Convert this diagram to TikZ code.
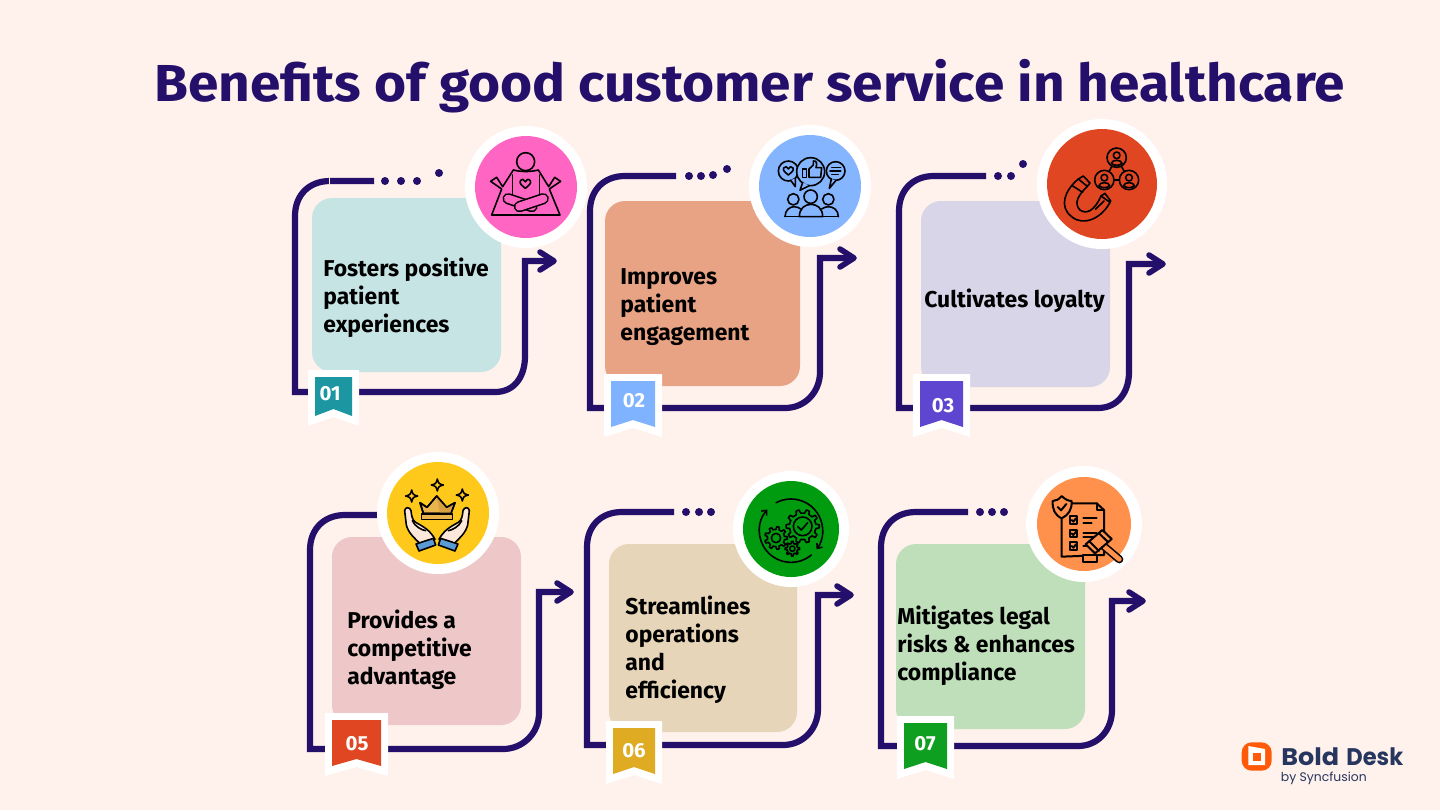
\documentclass[tikz,border=0pt]{standalone}
\usepackage{fontspec}
\usepackage{graphicx}
\usetikzlibrary{arrows.meta,calc}
\newfontfamily\bodyfont{Fira Sans}
\newfontfamily\logofont{Poppins}
\definecolor{bgc}{HTML}{FFF1EB}
\definecolor{navy}{HTML}{24106B}
\definecolor{logoblue}{HTML}{26365F}
\definecolor{logoorange}{HTML}{FF5A0A}
\definecolor{cardA}{HTML}{C7E4E5}
\definecolor{cardB}{HTML}{E8A284}
\definecolor{cardC}{HTML}{D8D5E9}
\definecolor{cardE}{HTML}{EEC8C8}
\definecolor{cardF}{HTML}{E6D5B8}
\definecolor{cardG}{HTML}{BEDFBA}
\definecolor{numA}{HTML}{1C96A0}
\definecolor{numB}{HTML}{7FB2FF}
\definecolor{numC}{HTML}{5E46D0}
\definecolor{numE}{HTML}{E04622}
\definecolor{numF}{HTML}{DFAB22}
\definecolor{numG}{HTML}{0E9E20}
\definecolor{iconA}{HTML}{FF66C4}
\definecolor{iconB}{HTML}{85B5FF}
\definecolor{iconC}{HTML}{E04622}
\definecolor{iconE}{HTML}{FFC91B}
\definecolor{iconF}{HTML}{009B0F}
\definecolor{iconG}{HTML}{FF914D}
\definecolor{gold}{HTML}{E9B44C}
\definecolor{golddark}{HTML}{D9A040}
\definecolor{skin}{HTML}{FCE8DA}
\definecolor{cuff}{HTML}{5B9BD5}
\tikzset{
  x=0.5pt,y=-0.5pt,
  flow/.style={draw=navy,line width=3.1pt,miter limit=10},
  chev/.style={draw=navy,line width=2.8pt,line cap=round,line join=round},
  dotm/.style={fill=navy},
  cardshape/.style={rounded corners=10pt,inner sep=0pt,draw=none},
  cardtext/.style={font=\bodyfont\bfseries\fontsize{11.45}{14}\selectfont,text=black,align=left,anchor=west,inner sep=0pt},
  numtext/.style={font=\bodyfont\bfseries\fontsize{10.2}{12}\selectfont,text=white,inner sep=0pt},
  ic/.style={draw=black,line width=0.8pt,line join=round,line cap=round},
  icb/.style={draw=black,line width=1pt,line join=round,line cap=round},
}
% l t topEnd b bottomEnd r arrowY tip
\newcommand\frameline[8]{%
  \draw[flow] (#3,#2) -- ({#1+35},#2) .. controls ({#1+14},#2) and (#1,{#2+14}) .. (#1,{#2+35})
     -- (#1,#4) -- (#5,#4) .. controls ({#5+20},#4) and (#6,{#4-16}) .. (#6,{#4-36})
     -- (#6,#7) -- ({#8-3},#7);
  \draw[chev] ({#8-15},{#7-9}) -- ({#8-1},#7) -- ({#8-15},{#7+9});
}
% name x1 y1 x2 y2 colour
\newcommand\cardnode[6]{%
  \node[cardshape,fill=#6,minimum width={(#4-#2)*0.5pt},minimum height={(#5-#3)*0.5pt}] (#1) at ({(#2+#4)/2},{(#3+#5)/2}) {};
}
% name x1 x2 top bottom colour tx ty text
\newcommand\ribbon[9]{%
  \fill[white] (#2,#4) -- (#3,#4) -- (#3,#5) -- ({(#2+#3)/2},{#5-9}) -- (#2,#5) -- cycle;
  \fill[#6] ({#2+7},{#4+7}) -- ({#3-7},{#4+7}) -- ({#3-7},{#5-10}) -- ({(#2+#3)/2},{#5-17}) -- ({#2+7},{#5-10}) -- cycle;
  \node[numtext] (#1) at (#7,#8) {#9};
}
% name cx cy outer inner colour
\newcommand\badge[6]{%
  \node[circle,fill=white,inner sep=0pt,minimum size={#4*1pt}] (#1) at (#2,#3) {};
  \node[circle,fill=#6,inner sep=0pt,minimum size={#5*1pt}] (#1i) at (#2,#3) {};
}
\newcommand\heartpath[3]{% cx cy size
  (#1,{#2+#3}) .. controls ({#1-#3*0.6},{#2+#3*0.45}) and ({#1-#3*1.25},{#2+#3*0.1}) .. ({#1-#3},{#2-#3*0.5})
  .. controls ({#1-#3*0.7},{#2-#3*1.0}) and ({#1-#3*0.15},{#2-#3*0.8}) .. (#1,{#2-#3*0.3})
  .. controls ({#1+#3*0.15},{#2-#3*0.8}) and ({#1+#3*0.7},{#2-#3*1.0}) .. ({#1+#3},{#2-#3*0.5})
  .. controls ({#1+#3*1.25},{#2+#3*0.1}) and ({#1+#3*0.6},{#2+#3*0.45}) .. (#1,{#2+#3}) -- cycle
}
\newcommand\sparkle[3]{% cx cy r
  \draw[ic,fill=iconE] (#1,{#2-#3}) .. controls ({#1+3},{#2-5}) and ({#1+5},{#2-3}) .. ({#1+#3},#2)
   .. controls ({#1+5},{#2+3}) and ({#1+3},{#2+5}) .. (#1,{#2+#3})
   .. controls ({#1-3},{#2+5}) and ({#1-5},{#2+3}) .. ({#1-#3},#2)
   .. controls ({#1-5},{#2-3}) and ({#1-3},{#2-5}) .. (#1,{#2-#3}) -- cycle;
}
\newcommand\gearic[6]{% cx cy ro ri n rinner
  \begin{scope}[shift={(#1,#2)}]
  \foreach \i in {1,...,#5}{%
    \pgfmathsetmacro\a{360/#5*\i}
    \pgfmathsetmacro\w{360/#5}
    \draw[ic] (\a-0.27*\w:#4) -- (\a-0.15*\w:#3) -- (\a+0.15*\w:#3) -- (\a+0.27*\w:#4) -- (\a+0.73*\w:#4);
  }
  \draw[ic] (0,0) circle (#6);
  \end{scope}
}
\newcommand\personc[2]{% cx cy: network circle with person
  \draw[ic,fill=iconC] (#1,#2) circle (29);
  \draw[ic] (#1,{#2-7}) circle (10);
  \draw[ic] ({#1-16},{#2+17}) .. controls ({#1-15},{#2+5}) and ({#1+15},{#2+5}) .. ({#1+16},{#2+17}) .. controls ({#1+8},{#2+25}) and ({#1-8},{#2+25}) .. ({#1-16},{#2+17}) -- cycle;
}
\begin{document}
\begin{tikzpicture}
\useasboundingbox (0,0) rectangle (1440,810);
\fill[bgc] (0,0) rectangle (1440,810);

\node[font=\bodyfont\bfseries\fontsize{26}{30}\selectfont,text=navy,anchor=base west,inner sep=0pt] (title) at (154,101) {\scalebox{1.057}[1]{Benefits of good customer service in healthcare}};

% ---------- frames
\frameline{295}{181}{374}{392}{495}{525}{261}{555}
\draw[bgc,line width=0.6pt] (329.5,177) -- (329.5,185);
\frameline{590}{176}{676}{408}{785}{820}{258}{855}
\frameline{899}{176}{986}{408}{1098}{1129}{264}{1164}
\frameline{310}{515}{385}{749}{503}{539}{592}{572}
\frameline{587}{512}{674}{745}{783}{818}{595}{852}
\frameline{881}{512}{968}{746}{1078}{1112}{601}{1144}

% ---------- dots
\foreach \x/\y in {385/181,401/181,417/181,439/173,689/176,701/176,713/175,727/169,998/176,1011/176,1023/164,686/512,699/512,711/512,980/512,992/512,1004/512}
  \fill[dotm] (\x,\y) circle (4);

% ---------- cards
\cardnode{card1}{312}{198}{501}{372}{cardA}
\cardnode{card2}{605}{201}{800}{386}{cardB}
\cardnode{card3}{921}{201}{1110}{387}{cardC}
\cardnode{card5}{332}{537}{521}{725}{cardE}
\cardnode{card6}{609}{544}{797}{732}{cardF}
\cardnode{card7}{896}{544}{1085}{729}{cardG}

\node[cardtext] (t1) at (323,298) {Fosters positive\\patient\\experiences};
\node[cardtext] (t2) at (620,307) {Improves\\patient\\engagement};
\node[cardtext] (t3) at (924,301) {Cultivates loyalty};
\node[cardtext] (t5) at (347,650) {Provides a\\competitive\\advantage};
\node[cardtext] (t6) at (625,650) {Streamlines\\operations\\and\\efficiency};
\node[cardtext] (t7) at (897,646) {Mitigates legal\\risks \& enhances\\compliance};

% ---------- ribbons
\ribbon{n1}{308}{359}{370}{426}{numA}{330}{394}{01}
\ribbon{n2}{604}{662}{374}{437}{numB}{634}{401}{02}
\ribbon{n3}{913}{970}{374}{437}{numC}{943}{406}{03}
\ribbon{n5}{325}{388}{713}{776}{numE}{357}{744}{05}
\ribbon{n6}{606}{662}{721}{784}{numF}{634}{751}{06}
\ribbon{n7}{897}{954}{716}{779}{numG}{925}{744}{07}

% ---------- icon discs
\badge{c1}{526}{187}{61}{51}{iconA}
\badge{c2}{810}{186}{61}{51}{iconB}
\badge{c3}{1102}{184}{65}{55}{iconC}
\badge{c5}{438}{513}{61}{51}{iconE}
\badge{c6}{791}{529}{58}{48}{iconF}
\badge{c7}{1084}{524}{58}{47}{iconG}

% ---------- icon 1: meditation
\begin{scope}[shift={(280,120)},scale=1/3]
  \draw[ic] (737,125) circle (27);
  \draw[ic] (700,150) .. controls (725,156) and (750,156) .. (775,150);
  \draw[ic] (700,150) -- (668,200) -- (650,172) -- (632,184) -- (665,207) -- (635,285) -- (840,285) -- (808,207) -- (842,184) -- (824,172) -- (806,200) -- (775,150);
  \draw[ic] (697,165) -- (697,228) (778,165) -- (778,228);
  \draw[ic] \heartpath{736}{190}{15};
  \draw[black,line width=5.6pt,line cap=round] (684,236) -- (756,260);
  \draw[iconA,line width=4pt,line cap=round] (684,236) -- (756,260);
  \draw[black,line width=5.6pt,line cap=round] (790,236) -- (718,260);
  \draw[iconA,line width=4pt,line cap=round] (790,236) -- (718,260);
\end{scope}

% ---------- icon 2: people & bubbles
\begin{scope}[shift={(770,145)},scale=1/3]
  \draw[ic] (55,78) circle (30);
  \draw[ic,fill=iconB] (62,106) -- (76,125) -- (76,100);
  \draw[ic] \heartpath{55}{76}{14};
  \draw[ic,fill=iconB] (122,80) circle (42);
  \draw[ic,fill=iconB] (98,112) -- (90,136) -- (118,122);
  \draw[ic] (197,78) circle (28);
  \draw[ic,fill=iconB] (184,102) -- (178,130) -- (198,106);
  \draw[ic] (98,72) rectangle (110,97);
  \draw[ic] (117,97) -- (117,72) -- (130,60) -- (130,48) .. controls (140,46) and (142,55) .. (138,68) -- (155,68) -- (152,97) -- cycle;
  \draw[ic] (185,68) -- (212,68) (180,78) -- (212,78) (185,88) -- (205,88);
  \draw[ic] (70,163) circle (17) (175,163) circle (17);
  \draw[ic] (45,215) .. controls (45,195) and (60,185) .. (72,185) .. controls (80,185) and (88,188) .. (92,192);
  \draw[ic] (205,215) .. controls (205,195) and (190,185) .. (175,185) .. controls (168,185) and (160,188) .. (155,192);
  \draw[ic] (45,215) -- (88,215) (158,215) -- (205,215);
  \draw[ic,fill=iconB] (122,155) circle (20);
  \draw[ic,fill=iconB] (88,215) .. controls (88,190) and (105,178) .. (123,178) .. controls (141,178) and (158,190) .. (158,215) -- cycle;
\end{scope}

% ---------- icon 3: magnet & network
\begin{scope}[shift={(740,115)},scale=1/3]
  \draw[ic] (1130,128) -- (1093,195) -- (1167,195) -- cycle;
  \personc{1130}{128}
  \personc{1093}{195}
  \personc{1167}{195}
  \draw[ic] (1015,192) .. controls (975,225) and (955,275) .. (995,305) .. controls (1030,335) and (1085,310) .. (1110,262);
  \draw[ic] (1042,214) .. controls (1015,240) and (1000,265) .. (1020,285) .. controls (1040,300) and (1065,285) .. (1083,243);
  \draw[ic] (1015,192) -- (1030,183) -- (1050,204) -- (1042,214) -- cycle;
  \draw[ic] (1083,243) -- (1095,235) -- (1112,258) -- (1110,262) -- cycle;
  \draw[ic] (998,213) -- (1028,232) (1066,283) -- (1092,258);
\end{scope}

% ---------- icon 5: crown & hands
\begin{scope}[shift={(395,470)},scale=1/3]
  \sparkle{50}{78}{18}
  \sparkle{127}{45}{18}
  \sparkle{202}{75}{18}
  \draw[ic,fill=gold] (75,98) -- (96,112) -- (125,78) -- (155,112) -- (180,98) -- (168,130) -- (85,130) -- cycle;
  \fill[golddark] (125,80) -- (155,112) -- (178,100) -- (167,129) -- (135,129) -- cycle;
  \draw[ic] (75,98) -- (96,112) -- (125,78) -- (155,112) -- (180,98) -- (168,130) -- (85,130) -- cycle;
  \draw[ic,fill=gold] (80,132) rectangle (172,148);
  \draw[ic,fill=skin] (29,122) .. controls (30,110) and (45,110) .. (48,122) .. controls (50,140) and (52,150) .. (62,157) .. controls (85,170) and (105,180) .. (120,208) -- (76,222) .. controls (60,205) and (40,190) .. (34,165) -- cycle;
  \draw[ic,fill=skin] (223,122) .. controls (222,110) and (207,110) .. (204,122) .. controls (202,140) and (200,150) .. (190,157) .. controls (167,170) and (147,180) .. (132,208) -- (176,222) .. controls (192,205) and (212,190) .. (218,165) -- cycle;
  \draw[ic] (52,152) .. controls (60,170) and (80,180) .. (92,182) (200,152) .. controls (192,170) and (172,180) .. (160,182);
  \draw[ic,fill=cuff] (63,222) -- (115,205) -- (122,225) -- (72,243) -- cycle;
  \draw[ic,fill=cuff] (189,222) -- (137,205) -- (130,225) -- (180,243) -- cycle;
\end{scope}

% ---------- icon 6: gears
\begin{scope}[shift={(750,488)},scale=1/3]
  \draw[ic,-{Straight Barb[length=2pt,width=3.5pt]}] ($(123,128)+(-118:95)$) arc (-118:36:95);
  \draw[ic,-{Straight Barb[length=2pt,width=3.5pt]}] ($(123,128)+(50:95)$) arc (50:222:95);
  \gearic{158}{115}{50}{40}{10}{28}
  \draw[ic] (143,115) -- (154,126) -- (173,104);
  \gearic{78}{150}{34}{26}{9}{14}
  \gearic{127}{182}{22}{16}{8}{8}
\end{scope}

% ---------- icon 7: checklist & gavel
\begin{scope}[shift={(1020,465)},scale=1/3]
  \draw[icb,fill=iconG] (125,115) -- (230,115) -- (252,135) -- (252,270) -- (125,275) -- cycle;
  \draw[icb] (230,115) -- (230,135) -- (252,135);
  \draw[icb,fill=iconG] (125,93) .. controls (135,103) and (145,108) .. (155,108) .. controls (156,135) and (145,150) .. (125,160) .. controls (105,150) and (97,135) .. (98,108) .. controls (108,108) and (117,103) .. (125,93) -- cycle;
  \draw[icb] (113,126) -- (123,136) -- (139,117);
  \foreach \y in {165,205,243}{
    \draw[icb] (150,\y-11) rectangle (172,\y+11);
    \draw[icb] (155,\y) -- (160,\y+5) -- (168,\y-5);
  }
  \draw[icb] (190,160) -- (230,160) (190,175) -- (215,175) (190,203) -- (230,203) (190,217) -- (220,217) (190,243) -- (210,243);
  \draw[icb,fill=iconG] (190,270) rectangle (230,290);
  \draw[black,line width=4pt,line cap=round] (245,238) -- (298,283);
  \draw[iconG,line width=2.4pt,line cap=round] (245,238) -- (298,283);
  \draw[icb,fill=iconG] (197,238) -- (247,195) -- (275,222) -- (225,265) -- cycle;
  \draw[icb] (207,228) -- (237,258) (237,205) -- (265,232);
\end{scope}

% ---------- logo
\begin{scope}[shift={(1230,730)},scale=1/3]
  \fill[logoorange,rounded corners=5pt] (35,37) rectangle (125,122);
  \fill[white] (55,48) -- (105,57) -- (105,105) -- (55,105) -- cycle;
  \fill[logoorange] (68,70) rectangle (92,92);
\end{scope}
\node[font=\logofont\bfseries\fontsize{12}{14}\selectfont,text=logoblue,anchor=base west,inner sep=0pt] (logoa) at (1281,765) {\scalebox{1.06}[1]{Bold}};
\node[font=\logofont\bfseries\fontsize{12}{14}\selectfont,text=logoblue,anchor=base west,inner sep=0pt] (logob) at (1346,765) {\scalebox{0.94}[1]{Desk}};
\node[font=\logofont\fontsize{6.2}{8}\selectfont,text=logoblue,anchor=base west,inner sep=0pt] (logoc) at (1280.5,781) {by Syncfusion};
\end{tikzpicture}
\end{document}
